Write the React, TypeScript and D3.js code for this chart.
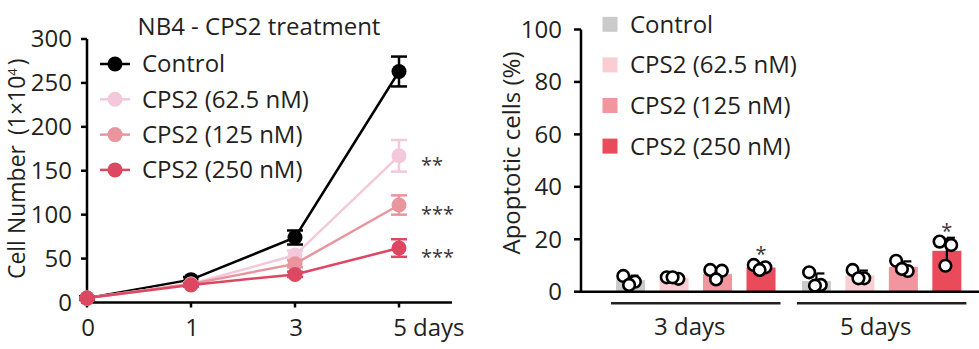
import React from "react";
import * as d3 from "d3";

// ---------- Left chart data (cell growth) ----------
const days = ["0", "1", "3", "5"];
const seriesNames = ["Control", "CPS2 (62.5 nM)", "CPS2 (125 nM)", "CPS2 (250 nM)"];
const controlMean = [5, 26, 74, 263];
const controlErr = [2, 3, 8, 17];
const cps62Mean = [5, 21, 54, 167];
const cps62Err = [1, 2, 5, 18];
const cps125Mean = [5, 21, 44, 111];
const cps125Err = [1, 2, 4, 11];
const cps250Mean = [5, 20, 32, 62];
const cps250Err = [1, 2, 3, 10];
const growthStars = ["", "**", "***", "***"];
const yTicksLeft = [0, 50, 100, 150, 200, 250, 300];

// ---------- Right chart data (apoptosis) ----------
const groups = ["3 days", "5 days"];
const apopMeans3 = [4.4, 5.3, 6.7, 9.2];
const apopMeans5 = [4.1, 6.2, 9.5, 15.6];
const apopPoints3 = [
  [6.0, 3.8, 2.6],
  [5.5, 4.9, 5.5],
  [8.3, 8.0, 4.7],
  [10.2, 9.3, 8.3],
];
const apopPoints5 = [
  [7.4, 2.6, 2.3],
  [8.3, 5.1, 5.1],
  [11.8, 7.9, 8.7],
  [19.1, 17.8, 9.9],
];
const pointJitter = [-0.25, 0.15, -0.05];
const apopStars3 = ["", "", "", "*"];
const apopStars5 = ["", "", "", "*"];
const yTicksRight = [0, 20, 40, 60, 80, 100];

const lineColors = ["#000000", "#f3c8da", "#e9959e", "#dc4762"];
const barColors = ["#c9cac9", "#f9cdd2", "#f1959e", "#e94b5b"];
const textColor = "#231f20";
const FONT = "'Open Sans', sans-serif";
const FS = 24;

function sd(a: number[]) {
  const m = d3.mean(a) as number;
  return Math.sqrt(d3.sum(a, (v) => (v - m) * (v - m)) / (a.length - 1));
}

export default function App() {
  const W = 979;
  const H = 349;

  // Left chart scales
  const xL = d3.scalePoint<string>().domain(days).range([87, 399]);
  const yL = d3.scaleLinear().domain([0, 300]).range([302.5, 39]);
  const means = [controlMean, cps62Mean, cps125Mean, cps250Mean];
  const errs = [controlErr, cps62Err, cps125Err, cps250Err];
  const line = d3
    .line<number>()
    .x((_, i) => xL(days[i]) as number)
    .y((v) => yL(v));

  // Right chart scales
  const axisXR = 581;
  const yR = d3.scaleLinear().domain([0, 100]).range([291.7, 29.5]);
  const xG = d3.scaleBand<string>().domain(groups).range([608.8, 968.6]).paddingInner(0.064).paddingOuter(0);
  const xI = d3
    .scaleBand<string>()
    .domain(seriesNames)
    .range([0, xG.bandwidth()])
    .paddingInner(0.333)
    .paddingOuter(0.1665);
  const groupMeans = [apopMeans3, apopMeans5];
  const groupPoints = [apopPoints3, apopPoints5];
  const groupStars = [apopStars3, apopStars5];

  return (
    <svg width={W} height={H} style={{ position: "absolute", left: 0, top: 0, background: "#fff" }} fontFamily={FONT}>
      <rect x={0} y={0} width={W} height={H} fill="#fff" />
      {/* ===== LEFT CHART ===== */}
      <text x={259} y={35} textAnchor="middle" fontSize={FS} fill={textColor}>
        NB4 - CPS2 treatment
      </text>
      {/* y axis */}
      <line x1={87} x2={87} y1={yL(300)} y2={yL(0)} stroke="#000" strokeWidth={2.5} />
      {yTicksLeft.map((t) => (
        <g key={"yl" + t}>
          <line x1={81} x2={87} y1={yL(t)} y2={yL(t)} stroke="#000" strokeWidth={2.5} />
          <text x={72} y={yL(t)} dy="0.35em" textAnchor="end" fontSize={FS} fill={textColor}>
            {t}
          </text>
        </g>
      ))}
      {/* x axis */}
      <line x1={86} x2={452} y1={yL(0)} y2={yL(0)} stroke="#000" strokeWidth={2.5} />
      {days.map((d) => (
        <g key={"xl" + d}>
          <line x1={xL(d)} x2={xL(d)} y1={yL(0)} y2={yL(0) + 5} stroke="#000" strokeWidth={2.5} />
          <text x={(xL(d) as number) + 1} y={336} textAnchor="middle" fontSize={FS} fill={textColor}>
            {d}
          </text>
        </g>
      ))}
      <text x={413} y={336} fontSize={FS} fill={textColor}>
        days
      </text>
      {/* y label */}
      <text
        transform={`translate(25, ${(yL(0) + yL(300)) / 2 - 2}) rotate(-90)`}
        textAnchor="middle"
        fontSize={23}
        fill={textColor}
      >
        Cell Number
        <tspan dx={10}>(1×10</tspan>
        <tspan fontSize={13} dy={-8}>
          4
        </tspan>
        <tspan dy={8} dx={3}>)</tspan>
      </text>
      {/* series */}
      {means.map((m, si) => (
        <g key={"s" + si}>
          <path d={line(m) as string} fill="none" stroke={lineColors[si]} strokeWidth={2.5} />
          {m.map((v, i) => {
            const x = xL(days[i]) as number;
            const e = errs[si][i];
            return (
              <g key={i}>
                <line x1={x} x2={x} y1={yL(v - e)} y2={yL(v + e)} stroke={lineColors[si]} strokeWidth={2.5} />
                <line x1={x - 8} x2={x + 8} y1={yL(v + e)} y2={yL(v + e)} stroke={lineColors[si]} strokeWidth={2.5} />
                <line x1={x - 8} x2={x + 8} y1={yL(v - e)} y2={yL(v - e)} stroke={lineColors[si]} strokeWidth={2.5} />
                <circle cx={x} cy={yL(v)} r={7.5} fill={lineColors[si]} />
              </g>
            );
          })}
          {growthStars[si] && (
            <text x={421} y={yL(m[m.length - 1]) + 16} fontSize={20} fill="#3a3536">
              {growthStars[si]}
            </text>
          )}
        </g>
      ))}
      {/* legend */}
      {seriesNames.map((n, i) => {
        const y = 64 + i * 35.3;
        return (
          <g key={"lg" + i}>
            <line x1={100} x2={130} y1={y} y2={y} stroke={lineColors[i]} strokeWidth={2.5} />
            <circle cx={115} cy={y} r={7.5} fill={lineColors[i]} />
            <text x={142} y={y} dy="0.35em" fontSize={FS} fill={textColor}>
              {n}
            </text>
          </g>
        );
      })}

      {/* ===== RIGHT CHART ===== */}
      <line x1={axisXR} x2={axisXR} y1={yR(100)} y2={yR(0)} stroke="#000" strokeWidth={2.5} />
      {yTicksRight.map((t) => (
        <g key={"yr" + t}>
          <line x1={axisXR - 7} x2={axisXR} y1={yR(t)} y2={yR(t)} stroke="#000" strokeWidth={2.5} />
          <text x={562} y={yR(t)} dy="0.35em" textAnchor="end" fontSize={FS} fill={textColor}>
            {t}
          </text>
        </g>
      ))}
      <text transform={`translate(520, 153) rotate(-90)`} textAnchor="middle" fontSize={FS} fill={textColor}>
        Apoptotic cells (%)
      </text>
      {groups.map((g, gi) => {
        const gx = xG(g) as number;
        const first = gx + (xI(seriesNames[0]) as number);
        const last = gx + (xI(seriesNames[3]) as number) + xI.bandwidth();
        return (
          <g key={"g" + g}>
            {seriesNames.map((n, si) => {
              const bx = gx + (xI(n) as number);
              const cx = bx + xI.bandwidth() / 2;
              const mean = groupMeans[gi][si];
              const pts = groupPoints[gi][si];
              const s = sd(pts);
              const maxPt = d3.max(pts) as number;
              return (
                <g key={n}>
                  <rect x={bx} y={yR(mean)} width={xI.bandwidth()} height={yR(0) - yR(mean)} fill={barColors[si]} />
                  <line x1={cx} x2={cx} y1={yR(mean - s)} y2={yR(mean + s)} stroke="#000" strokeWidth={2.2} />
                  <line x1={cx} x2={cx + 8} y1={yR(mean + s)} y2={yR(mean + s)} stroke="#000" strokeWidth={2.2} />
                  {pts.map((p, pi) => (
                    <circle
                      key={pi}
                      cx={cx + pointJitter[pi] * xI.bandwidth()}
                      cy={yR(p)}
                      r={5.8}
                      fill="#fff"
                      stroke="#000"
                      strokeWidth={2.6}
                    />
                  ))}
                  {groupStars[gi][si] && (
                    <text x={cx} y={yR(maxPt) - 4} textAnchor="middle" fontSize={20} fill="#3a3536">
                      {groupStars[gi][si]}
                    </text>
                  )}
                </g>
              );
            })}
            <line x1={first - 5} x2={last + 5} y1={303.3} y2={303.3} stroke="#231f20" strokeWidth={2.5} />
            <text x={(first + last) / 2 - 6} y={335} textAnchor="middle" fontSize={FS} fill={textColor}>
              {g}
            </text>
          </g>
        );
      })}
      <line x1={axisXR - 1} x2={W} y1={yR(0)} y2={yR(0)} stroke="#000" strokeWidth={2.5} />
      {/* right legend */}
      {seriesNames.map((n, i) => {
        const y = 24.3 + i * 40.6;
        return (
          <g key={"rl" + i}>
            <rect x={602.5} y={y - 7.5} width={15} height={15} fill={barColors[i]} />
            <text x={630} y={y} dy="0.35em" fontSize={FS} fill={textColor}>
              {n}
            </text>
          </g>
        );
      })}
    </svg>
  );
}
